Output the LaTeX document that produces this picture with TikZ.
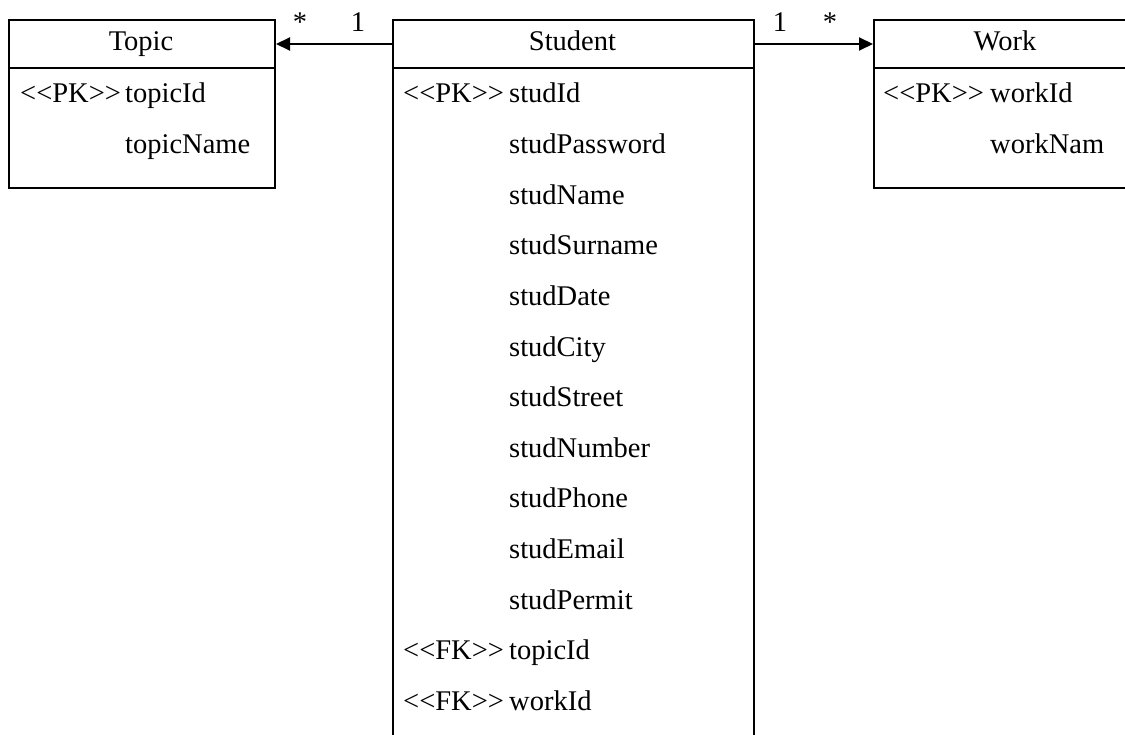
\documentclass[tikz,border=0pt]{standalone}
\usepackage{fontspec}
\setmainfont{Liberation Serif}
\usetikzlibrary{arrows.meta}
\newcommand{\angl}[1]{<\kern0pt<#1>\kern0pt>}
\begin{document}
\begin{tikzpicture}[x=1pt,y=-1pt,
  box/.style={draw, line width=2pt, rectangle, inner sep=0pt, anchor=north west},
  txt/.style={inner sep=0pt, anchor=base west, font=\fontsize{28.5}{30}\selectfont},
  hdr/.style={inner sep=0pt, anchor=base, font=\fontsize{28.5}{30}\selectfont},
  assoc/.style={line width=2pt, -{Triangle[length=14pt,width=13pt]}}
]
\useasboundingbox (0,0) rectangle (1125,735);
\clip (0,0) rectangle (1125,735);
% Topic
\node[box, minimum width=266pt, minimum height=48pt] (topichead) at (8,19) {};
\node[box, minimum width=266pt, minimum height=120pt] (topicbody) at (8,67) {};
\node[hdr] (topicname) at (141,51) {Topic};
\node[txt] (tpk) at (20,103) {\angl{PK}};
\node[txt] (tid) at (125,103) {topicId};
\node[txt] (tname) at (125,153.6) {topicName};
% Student
\node[box, minimum width=361pt, minimum height=48pt] (studhead) at (392,19) {};
\node[box, minimum width=361pt, minimum height=720pt] (studbody) at (392,67) {};
\node[hdr] (studname) at (572.5,51) {Student};
\node[txt] (spk) at (403,103) {\angl{PK}};
\node[txt] (s1) at (509,103) {studId};
\node[txt] (s2) at (509,153.6) {studPassword};
\node[txt] (s3) at (509,204.2) {studName};
\node[txt] (s4) at (509,254.8) {studSurname};
\node[txt] (s5) at (509,305.4) {studDate};
\node[txt] (s6) at (509,356) {studCity};
\node[txt] (s7) at (509,406.6) {studStreet};
\node[txt] (s8) at (509,457.2) {studNumber};
\node[txt] (s9) at (509,507.8) {studPhone};
\node[txt] (s10) at (509,558.4) {studEmail};
\node[txt] (s11) at (509,609) {studPermit};
\node[txt] (sfk1) at (403,659.6) {\angl{FK}};
\node[txt] (s12) at (509,659.6) {topicId};
\node[txt] (sfk2) at (403,710.2) {\angl{FK}};
\node[txt] (s13) at (509,710.2) {workId};
% Work
\node[box, minimum width=264pt, minimum height=48pt] (workhead) at (873,19) {};
\node[box, minimum width=264pt, minimum height=120pt] (workbody) at (873,67) {};
\node[hdr] (workname) at (1005,51) {Work};
\node[txt] (wpk) at (883,103) {\angl{PK}};
\node[txt] (wid) at (990,103) {workId};
\node[txt] (wname) at (990,153.6) {workNam};
% associations
\draw[assoc] (studhead.west) -- (topichead.east);
\draw[assoc] (studhead.east) -- (workhead.west);
\node[hdr] (m1) at (300,32) {*};
\node[hdr] (m2) at (358,32) {1};
\node[hdr] (m3) at (780,32) {1};
\node[hdr] (m4) at (830,32) {*};
\end{tikzpicture}
\end{document}
